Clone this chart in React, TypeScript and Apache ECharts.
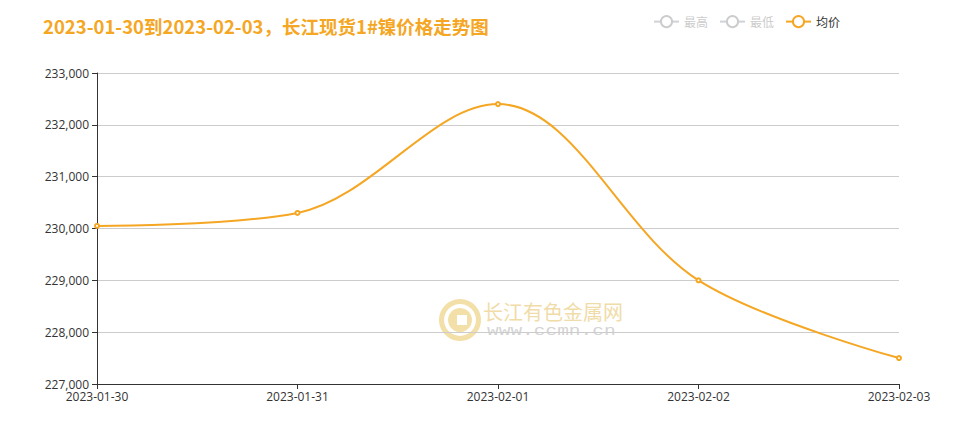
import React, { useEffect, useRef } from "react";
import * as echarts from "echarts";

const categories = ["2023-01-30", "2023-01-31", "2023-02-01", "2023-02-02", "2023-02-03"];
const avgPrice = [230050, 230300, 232400, 229000, 227500];
const highPrice: number[] = [];
const lowPrice: number[] = [];
const titleText = "2023-01-30到2023-02-03，长江现货1#镍价格走势图";
const legendNames = ["最高", "最低", "均价"];

export default function App() {
  const ref = useRef<HTMLDivElement>(null);
  useEffect(() => {
    document.body.style.margin = "0";
    if (!ref.current) return;
    const chart = echarts.init(ref.current, undefined, { renderer: "svg" });
    const orange = "#f5a623";
    chart.setOption({
      animation: false,
      title: {
        text: titleText,
        left: 38,
        top: 12,
        textStyle: {
          color: orange,
          fontSize: 18.5,
          fontWeight: "bold",
          fontFamily: "'Noto Sans CJK SC', sans-serif",
        },
      },
      legend: {
        data: legendNames,
        right: 122,
        top: 10,
        itemWidth: 25,
        itemHeight: 14,
        itemGap: 11,
        inactiveColor: "#ccc",
        textStyle: { fontSize: 12, color: "#333", fontFamily: "'Noto Sans CJK SC', sans-serif" },
        selected: { 最高: false, 最低: false, 均价: true },
      },
      grid: { left: 97, right: 68, top: 73, bottom: 58 },
      xAxis: {
        type: "category",
        boundaryGap: false,
        data: categories,
        axisLine: { lineStyle: { color: "#333" } },
        axisTick: { show: true, lineStyle: { color: "#333" } },
        axisLabel: { color: "#333", fontSize: 12, margin: 6, fontFamily: "'Open Sans', sans-serif" },
      },
      yAxis: {
        type: "value",
        min: 227000,
        max: 233000,
        interval: 1000,
        axisLine: { show: true, lineStyle: { color: "#333" } },
        axisTick: { show: true, lineStyle: { color: "#333" } },
        axisLabel: {
          color: "#333",
          fontSize: 12,
          fontFamily: "'Open Sans', sans-serif",
          formatter: (v: number) => v.toLocaleString("en-US"),
        },
        splitLine: { lineStyle: { color: "#ccc" } },
      },
      graphic: [
        {
          type: "ring",
          shape: { cx: 460, cy: 320, r: 21, r0: 16 },
          style: { fill: "#f3e0a8" },
          silent: true,
        },
        {
          type: "circle",
          shape: { cx: 460, cy: 320, r: 12 },
          style: { fill: "#f3e0a8" },
          silent: true,
        },
        {
          type: "rect",
          shape: { x: 457, y: 315, width: 10, height: 10 },
          style: { fill: "#ffffff" },
          silent: true,
        },
        {
          type: "text",
          x: 483,
          y: 301,
          style: {
            text: "长江有色金属网",
            fill: "#f0dca8",
            fontSize: 20,
            fontFamily: "'Noto Sans CJK SC', sans-serif",
          },
          silent: true,
        },
        {
          type: "group",
          x: 487,
          y: 324,
          scaleX: 1.3,
          silent: true,
          children: [
            {
              type: "text",
              style: {
                text: "www.ccmn.cn",
                fill: "#d4d4d4",
                fontSize: 15,
                fontFamily: "'Liberation Mono', monospace",
              },
              silent: true,
            },
          ],
        },
      ],
      series: [
        {
          name: "最高",
          type: "line",
          smooth: true,
          symbol: "emptyCircle",
          data: highPrice,
        },
        {
          name: "最低",
          type: "line",
          smooth: true,
          symbol: "emptyCircle",
          data: lowPrice,
        },
        {
          name: "均价",
          type: "line",
          smooth: 0.35,
          symbol: "emptyCircle",
          symbolSize: 4,
          itemStyle: { color: orange },
          lineStyle: { color: orange, width: 2 },
          data: avgPrice,
        },
      ],
    });
    return () => chart.dispose();
  }, []);
  return <div ref={ref} style={{ width: 967, height: 442 }} />;
}
